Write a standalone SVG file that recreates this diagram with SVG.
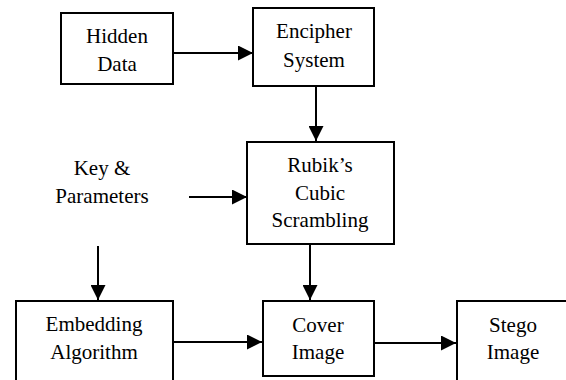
<svg xmlns="http://www.w3.org/2000/svg" width="566" height="380" viewBox="0 0 566 380">
<style>
.box{fill:#fff;stroke:#000;stroke-width:2}
.lbl{font-family:"Times New Roman",Times,"Liberation Serif","Nimbus Roman","DejaVu Serif",serif;font-size:21px;fill:#000;text-anchor:middle}
.conn{stroke:#000;stroke-width:2;fill:none;marker-end:url(#ah)}
</style>
<defs>
<marker id="ah" viewBox="0 0 15 15" markerWidth="15" markerHeight="15" refX="15" refY="7.5" orient="auto" markerUnits="userSpaceOnUse">
<path d="M0,0 L15,7.5 L0,15 Z" fill="#000"/>
</marker>
</defs>
<rect width="566" height="380" fill="#fff"/>
<g id="hidden-data">
<rect class="box" x="61" y="13" width="112" height="71"/>
<text class="lbl" x="117" y="43">Hidden</text>
<text class="lbl" x="117" y="71">Data</text>
</g>
<g id="encipher-system">
<rect class="box" x="253" y="8" width="121" height="78"/>
<text class="lbl" x="314" y="38">Encipher</text>
<text class="lbl" x="314" y="67">System</text>
</g>
<g id="key-parameters">
<text class="lbl" x="102" y="175">Key &amp;</text>
<text class="lbl" x="102" y="203">Parameters</text>
</g>
<g id="rubik-scrambling">
<rect class="box" x="247" y="142" width="147" height="102"/>
<text class="lbl" x="320" y="172">Rubik’s</text>
<text class="lbl" x="320" y="200">Cubic</text>
<text class="lbl" x="320" y="227">Scrambling</text>
</g>
<g id="embedding-algorithm">
<rect class="box" x="16" y="301" width="157" height="90"/>
<text class="lbl" x="94" y="331">Embedding</text>
<text class="lbl" x="94" y="359">Algorithm</text>
</g>
<g id="cover-image">
<rect class="box" x="263" y="301" width="111" height="75"/>
<text class="lbl" x="318" y="332">Cover</text>
<text class="lbl" x="318" y="359">Image</text>
</g>
<g id="stego-image">
<rect class="box" x="457" y="301" width="115" height="90"/>
<text class="lbl" x="513" y="332">Stego</text>
<text class="lbl" x="513" y="359">Image</text>
</g>
<g id="connectors">
<line class="conn" x1="173" y1="53" x2="253" y2="53"/>
<line class="conn" x1="316" y1="86" x2="316" y2="141"/>
<line class="conn" x1="189" y1="197" x2="247" y2="197"/>
<line class="conn" x1="98" y1="246" x2="98" y2="300"/>
<line class="conn" x1="310" y1="244" x2="310" y2="300"/>
<line class="conn" x1="173" y1="342" x2="262" y2="342"/>
<line class="conn" x1="374" y1="343" x2="456" y2="343"/>
</g>
</svg>
